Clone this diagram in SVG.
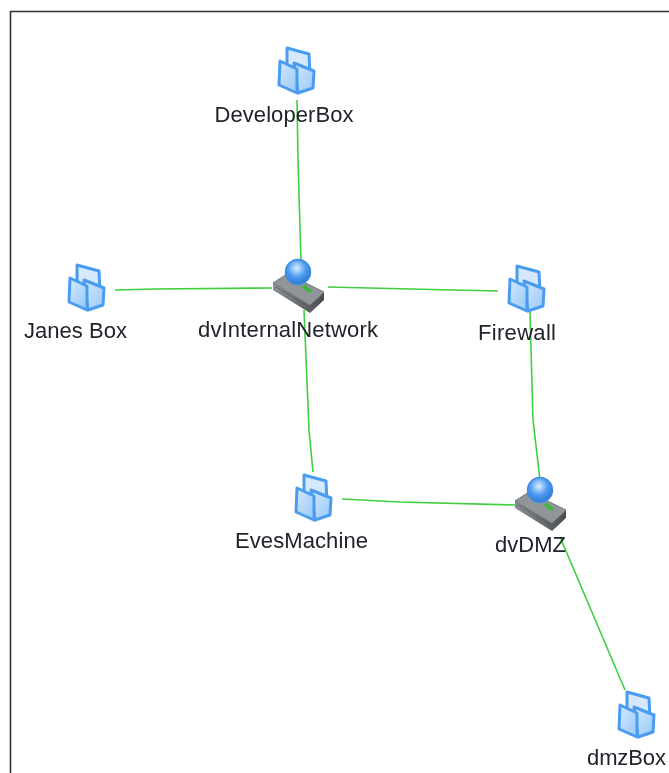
<svg xmlns="http://www.w3.org/2000/svg" width="669" height="773" viewBox="0 0 669 773">
<style>
.l{font-family:"Liberation Sans",Arial,sans-serif;font-size:22px;fill:#22222c;text-anchor:middle;filter:url(#soft)}
.c{fill:none;stroke:#3fcf3f;stroke-width:1.6}
.p{stroke:#4a9cf0;stroke-width:3;stroke-linejoin:round}
.i{filter:url(#soft)}
</style>
<defs>
<filter id="soft" x="-10%" y="-10%" width="120%" height="120%"><feGaussianBlur stdDeviation="0.45"/></filter>
<linearGradient id="pane" x1="0" y1="0" x2="1" y2="1"><stop offset="0" stop-color="#d4e9fd"/><stop offset="1" stop-color="#98c8f7"/></linearGradient>
<radialGradient id="globe" cx="0.45" cy="0.35" r="0.7"><stop offset="0" stop-color="#dcefff"/><stop offset="0.5" stop-color="#4f9cf0"/><stop offset="1" stop-color="#2a6fd0"/></radialGradient>
<linearGradient id="side" x1="0" y1="0" x2="1" y2="0"><stop offset="0" stop-color="#8a8f92"/><stop offset="1" stop-color="#4a4d50"/></linearGradient>
<g id="box">
<path class="p" fill="#d6e9fc" d="M10 2L32 8L33 30L10 28Z"/>
<path class="p" fill="url(#pane)" d="M17 17L37 25L36 42L21 47Z"/>
<path class="p" fill="url(#pane)" d="M3 15L20 23L20 47L2 39Z"/>
</g>
<g id="switch">
<path fill="url(#side)" d="M-25 11L12 33L26 20L26 28L12 41L-25 18Z"/>
<path fill="#8f9598" stroke="#777" d="M-25 11L-11 2L26 20L12 33Z"/>
<path fill="#55595c" stroke="#55595c" stroke-dasharray="1.5 1.5" d="M-22 15L8 33"/>
<path fill="#3fb83f" stroke="#3fb83f" stroke-width="3" d="M-7 9L-3 11"/>
<path fill="#3fb83f" stroke="#3fb83f" stroke-width="4" d="M5 14L13 20"/>
<circle cx="0" cy="0" r="12.5" fill="url(#globe)" stroke="#3f8ce0" stroke-width="1.5"/>
</g>
</defs>
<rect width="669" height="773" fill="#fff"/>
<path d="M10.5 773V11.5H669" fill="none" stroke="#333" stroke-width="1.6"/>
<g id="connectors">
<path class="c" d="M297 100L298 160L301 262"/>
<path class="c" d="M115 290L155 289L272 288"/>
<path class="c" d="M328 287L410 289L498 291"/>
<path class="c" d="M304 310L309 430L313 472"/>
<path class="c" d="M342 499L400 502L515 505"/>
<path class="c" d="M530 312L533 420L540 480"/>
<path class="c" d="M560 537L625 690"/>
</g>
<g id="DeveloperBox"><use class="i" href="#box" x="277" y="46"/><text class="l" x="284" y="122" textLength="139">DeveloperBox</text></g>
<g id="JanesBox"><use class="i" href="#box" x="67" y="263"/><text class="l" x="75.500" y="338" textLength="103">Janes Box</text></g>
<g id="dvInternalNetwork"><use class="i" href="#switch" x="298" y="272"/><text class="l" x="288" y="337" textLength="180">dvInternalNetwork</text></g>
<g id="Firewall"><use class="i" href="#box" x="507" y="264"/><text class="l" x="517" y="340" textLength="78">Firewall</text></g>
<g id="EvesMachine"><use class="i" href="#box" x="294" y="473"/><text class="l" x="301.500" y="548" textLength="133">EvesMachine</text></g>
<g id="dvDMZ"><use class="i" href="#switch" x="540" y="490"/><text class="l" x="530.500" y="552" textLength="71">dvDMZ</text></g>
<g id="dmzBox"><use class="i" href="#box" x="617" y="690"/><text class="l" x="626.500" y="765" textLength="79">dmzBox</text></g>
</svg>
